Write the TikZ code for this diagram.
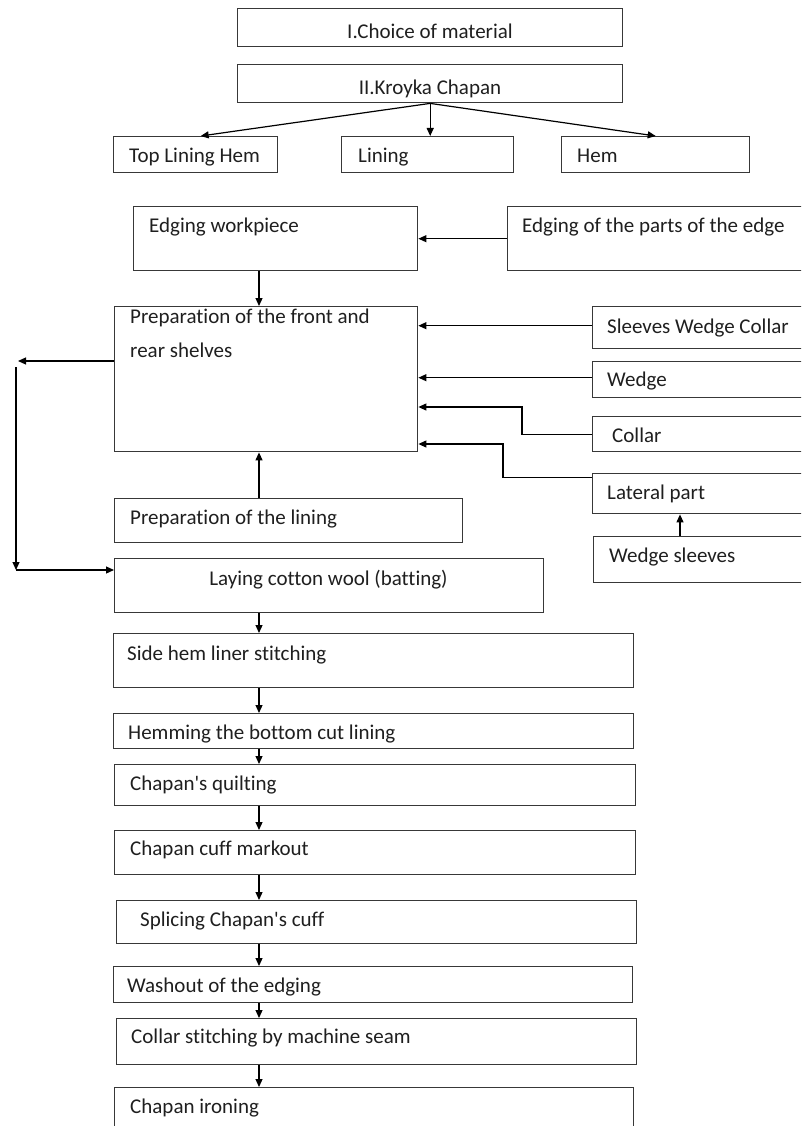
\documentclass[tikz,border=0pt]{standalone}
\usepackage{fontspec}
\setmainfont{Carlito}[Ligatures={NoCommon}]
\usetikzlibrary{arrows.meta}
\begin{document}
\begin{tikzpicture}[x=1pt,y=-1pt,
  box/.style={draw=black!78, line width=1.4pt, inner sep=0pt, anchor=north west},
  txt/.style={inner sep=0pt, anchor=base west, font=\fontsize{21}{25}\selectfont, text=black!88},
  ctxt/.style={txt, anchor=base},
  arr/.style={draw=black, line width=1.2pt, -{Triangle[length=8pt,width=7pt]}}]
\clip (0,0) rectangle (801,1126);
\fill[white] (0,0) rectangle (801,1126);
% boxes
\node[box, minimum width=385pt, minimum height=38pt] (b1) at (237,8) {};
\node[box, minimum width=385pt, minimum height=38pt] (b2) at (237,64) {};
\node[box, minimum width=164pt, minimum height=36pt] (tlh) at (113,136) {};
\node[box, minimum width=172pt, minimum height=36pt] (lin) at (341,136) {};
\node[box, minimum width=188pt, minimum height=36pt] (hem) at (561,136) {};
\node[box, minimum width=284pt, minimum height=64pt] (ew) at (133,206) {};
\node[box, minimum width=330pt, minimum height=64pt] (ep) at (507,206) {};
\node[box, minimum width=303pt, minimum height=145pt] (prep) at (114,306) {};
\node[box, minimum width=240pt, minimum height=42pt] (swc) at (592,306) {};
\node[box, minimum width=240pt, minimum height=36pt] (wd) at (592,361) {};
\node[box, minimum width=240pt, minimum height=35pt] (col) at (592,416) {};
\node[box, minimum width=240pt, minimum height=40pt] (lat) at (592,473) {};
\node[box, minimum width=240pt, minimum height=46pt] (ws) at (593,536) {};
\node[box, minimum width=348pt, minimum height=44pt] (pl) at (114,498) {};
\node[box, minimum width=429pt, minimum height=54pt] (lay) at (114,558) {};
\node[box, minimum width=520pt, minimum height=54pt] (sh) at (113,633) {};
\node[box, minimum width=520pt, minimum height=35pt] (hm) at (113,713) {};
\node[box, minimum width=521pt, minimum height=41pt] (qu) at (114,764) {};
\node[box, minimum width=521pt, minimum height=44pt] (cm) at (114,830) {};
\node[box, minimum width=520pt, minimum height=43pt] (sp) at (116,900) {};
\node[box, minimum width=519pt, minimum height=36pt] (wo) at (113,966) {};
\node[box, minimum width=520pt, minimum height=46pt] (cs) at (116,1018) {};
\node[box, minimum width=519pt, minimum height=60pt] (ir) at (114,1087) {};
% texts
\node[ctxt] (t1) at (430,39) {I.Choice of material};
\node[ctxt] (t2) at (430,95) {II.Kroyka Chapan};
\node[txt] (ttlh) at (129,163) {Top Lining Hem};
\node[txt] (tlin) at (358,163) {Lining};
\node[txt] (them) at (577,163) {Hem};
\node[txt] (tew) at (149,232) {Edging workpiece};
\node[txt] (tep) at (522,232) {Edging of the parts of the edge};
\node[txt] (tp1) at (130,323) {Preparation of the front and};
\node[txt] (tp2) at (130,357) {rear shelves};
\node[txt] (tswc) at (607,333) {Sleeves Wedge Collar};
\node[txt] (twd) at (607,386) {Wedge};
\node[txt] (tcol) at (612,442) {Collar};
\node[txt] (tlat) at (607,499) {Lateral part};
\node[txt] (tws) at (609,562) {Wedge sleeves};
\node[txt] (tpl) at (130,524) {Preparation of the lining};
\node[ctxt] (tlay) at (328.5,585) {Laying cotton wool (batting)};
\node[txt] (tsh) at (127,660) {Side hem liner stitching};
\node[txt] (thm) at (128,739) {Hemming the bottom cut lining};
\node[txt] (tqu) at (130,790) {Chapan\textquotesingle s quilting};
\node[txt] (tcm) at (130,855) {Chapan cuff markout};
\node[txt] (tsp) at (140,926) {Splicing Chapan\textquotesingle s cuff};
\node[txt] (two) at (127,992) {Washout of the edging};
\node[txt] (tcs) at (131,1043) {Collar stitching by machine seam};
\node[txt] (tir) at (130,1113) {Chapan ironing};
% coordinates
\coordinate (xm) at (259,0);
\coordinate (xa) at (680,0);
\coordinate (c1) at (522,407);
\coordinate (c2) at (503,444);
\coordinate (l1) at (18,361);
\coordinate (l2) at (16,367);
\coordinate (l3) at (16,570);
% connectors
\draw[arr] (b2.south) -- ([xshift=5pt]tlh.north);
\draw[arr] (b2.south) -- (b2.south |- lin.north);
\draw[arr] (b2.south) -- (hem.north);
\draw[arr] (ep.west) -- (ew.east);
\draw[arr] (ew.south -| xm) -- (prep.north -| xm);
\draw[arr] ([yshift=2pt]swc.west) -- ([yshift=2pt]swc.west -| prep.east);
\draw[arr] ([yshift=2pt]wd.west) -- ([yshift=2pt]wd.west -| prep.east);
\draw[arr] (col.west) -| (c1) -- (c1 -| prep.east);
\draw[arr] ([yshift=16pt]lat.west) -| (c2) -- (c2 -| prep.east);
\draw[arr] (ws.north -| xa) -- (lat.south -| xa);
\draw[arr] (pl.north -| xm) -- (prep.south -| xm);
\draw[arr] (prep.west |- l1) -- (l1);
\draw[arr] (l2) -- (l3);
\draw[arr] (l3) -- (lay.west |- l3);
\foreach \a/\b in {lay/sh, sh/hm, hm/qu, qu/cm, cm/sp, sp/wo, wo/cs, cs/ir}
  \draw[arr] (\a.south -| xm) -- (\b.north -| xm);
\end{tikzpicture}
\end{document}
